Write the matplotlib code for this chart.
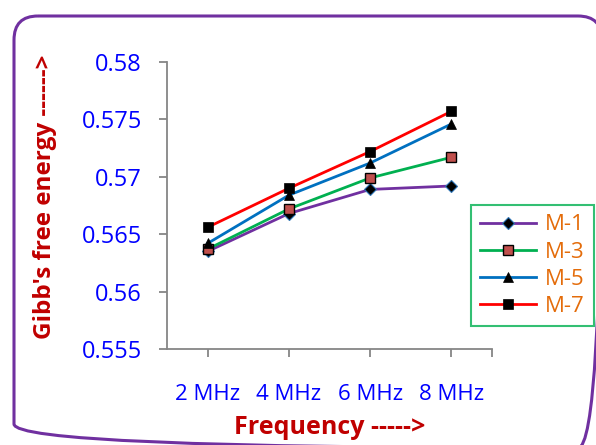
import matplotlib
matplotlib.use("Agg")
import matplotlib.pyplot as plt
from matplotlib.patches import FancyBboxPatch

categories = ["2 MHz", "4 MHz", "6 MHz", "8 MHz"]
m1 = [0.5635, 0.5668, 0.5689, 0.5692]
m3 = [0.5637, 0.5672, 0.5699, 0.5717]
m5 = [0.5642, 0.5684, 0.5712, 0.5746]
m7 = [0.5656, 0.5690, 0.5722, 0.5757]
series_names = ["M-1", "M-3", "M-5", "M-7"]
y_ticks = [0.555, 0.56, 0.565, 0.57, 0.575, 0.58]
y_tick_labels = ["0.555", "0.56", "0.565", "0.57", "0.575", "0.58"]

W, H = 596, 445
fig = plt.figure(figsize=(W / 100, H / 100), dpi=100)
plt.rcParams['font.family'] = ['Open Sans', 'DejaVu Sans']

# background frame axes in pixel coordinates
bg = fig.add_axes([0, 0, 1, 1], zorder=0)
bg.set_xlim(0, W)
bg.set_ylim(H, 0)
bg.axis("off")
bg.add_patch(FancyBboxPatch((14, 16), 588, 432,
                            boxstyle="round,pad=0,rounding_size=24",
                            fill=False, edgecolor="#7030A0", linewidth=2.2))

ax = fig.add_axes([167 / W, 1 - 349 / H, (492 - 167) / W, (349 - 62) / H], zorder=1)
ax.patch.set_alpha(0)
x = list(range(len(categories)))

styles = [
    (m1, "#7030A0", dict(marker="D", markersize=6.5, markerfacecolor="black", markeredgecolor="#2E75B6", markeredgewidth=0.8)),
    (m3, "#00B050", dict(marker="s", markersize=6.5, markerfacecolor="#C0504D", markeredgecolor="black", markeredgewidth=1.0)),
    (m5, "#0070C0", dict(marker="^", markersize=7.5, markerfacecolor="black", markeredgecolor="black", markeredgewidth=0.5)),
    (m7, "#FF0000", dict(marker="s", markersize=6.5, markerfacecolor="black", markeredgecolor="black", markeredgewidth=0.5)),
]
handles = []
for (vals, col, mk), name in zip(styles, series_names):
    h, = ax.plot(x, vals, color=col, linewidth=2.0, label=name, **mk)
    handles.append(h)

ax.set_xlim(-0.5, 3.5)
ax.set_ylim(0.555, 0.58)
ax.set_yticks(y_ticks)
ax.set_yticklabels(y_tick_labels)
ax.set_xticks(x + [3.5])
ax.set_xticklabels(categories + [""])

for s in ["top", "right"]:
    ax.spines[s].set_visible(False)
for s in ["left", "bottom"]:
    ax.spines[s].set_color("#868686")
    ax.spines[s].set_linewidth(1.3)
ax.tick_params(axis="y", direction="out", length=6, width=1.3, color="#868686",
               labelcolor="#0000FF", labelsize=17, pad=12)
ax.tick_params(axis="x", direction="out", length=6, width=1.3, color="#868686",
               labelcolor="#0000FF", labelsize=16, pad=19)

fig.text(45 / W, 1 - 197 / H, "Gibb's free energy ------>", rotation=90,
         ha="center", va="center", color="#C00000", fontsize=17.5, fontweight="bold")
fig.text(330 / W, 1 - 428 / H, "Frequency ----->", ha="center", va="center",
         color="#C00000", fontsize=18, fontweight="bold")

leg = fig.legend(handles=handles, labels=series_names,
                 loc="upper left", bbox_to_anchor=(471 / W, 1 - 205 / H),
                 bbox_transform=fig.transFigure, fontsize=16,
                 labelcolor="#E46C0A", frameon=True, fancybox=False,
                 handlelength=2.5, handletextpad=0.4, labelspacing=0.28,
                 borderpad=0.42, borderaxespad=0)
leg.get_frame().set_edgecolor("#00B050")
leg.get_frame().set_linewidth(1.5)

fig.savefig("out.png", dpi=100)
